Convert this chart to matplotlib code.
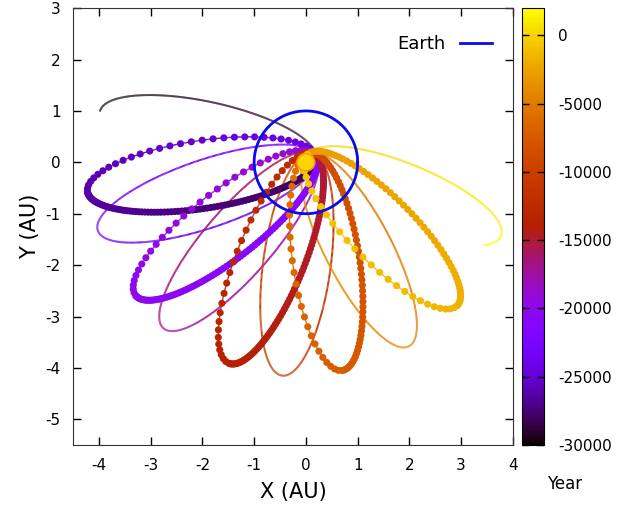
import numpy as np
import matplotlib
matplotlib.use("Agg")
import matplotlib.pyplot as plt
from matplotlib.collections import LineCollection
from matplotlib.colors import Normalize
from matplotlib.patches import Circle
from matplotlib.cm import ScalarMappable

plt.rcParams["axes.unicode_minus"] = False

# aphelion point of every loop of the comet track (AU)
aph_x = [-3.98, -4.22, -4.02, -3.29, -2.75, -1.49, -0.46, 0.70, 1.99, 2.92, 3.77]
aph_y = [0.99, -0.57, -1.33, -2.59, -3.23, -3.91, -4.15, -4.05, -3.58, -2.79, -1.43]
# year at start and end of each loop
year_start = [-30000, -28500, -24000, -21500, -18500, -15500, -12000, -9000, -5500, -3000, -300]
year_end = [-28500, -24000, -21500, -18500, -15500, -12000, -9000, -5500, -3000, -300, 2000]
# drawn part of each loop (eccentric anomaly, in units of pi)
ea_start = [1.0, 0, 0, 0, 0, 0, 0, 0, 0, 0, 0]
ea_end = [2.0, 2, 2, 2, 2, 2, 2, 2, 2, 2, 1.16]
# loops drawn with points (True) or as a plain line (False)
with_points = [False, True, False, True, False, True, False, True, False, True, False]

perihelion = 0.1      # AU
focus = (0.1, 0.08)
earth_r = 1.0
sun_r = 0.17
year_min, year_max = -30000, 2000
cbar_ticks = [0, -5000, -10000, -15000, -20000, -25000, -30000]

cmap = plt.get_cmap("gnuplot")
norm = Normalize(year_min, year_max)


def track(k, E):
    fx, fy = focus
    dx, dy = aph_x[k] - fx, aph_y[k] - fy
    Q = np.hypot(dx, dy)
    phi = np.arctan2(dy, dx)
    a = (Q + perihelion) / 2
    e = (Q - perihelion) / (Q + perihelion)
    b = a * np.sqrt(1 - e**2)
    s = a * (np.cos(E) - e)
    w = b * np.sin(E)
    x = fx - s * np.cos(phi) - w * np.sin(phi)
    y = fy - s * np.sin(phi) + w * np.cos(phi)
    e0, e1 = ea_start[k] * np.pi, ea_end[k] * np.pi
    t = year_start[k] + (E - e0) / (e1 - e0) * (year_end[k] - year_start[k])
    return x, y, t


fig = plt.figure(figsize=(6.29, 5.08), dpi=100)
ax = fig.add_axes([0.116, 0.124, 0.6995, 0.860])
cax = fig.add_axes([0.830, 0.124, 0.035, 0.860])

n_out = {1: 100, 3: 100, 5: 90, 7: 60, 9: 55}
n_ret = {1: 34, 3: 34, 5: 32, 7: 30, 9: 30}

for k in range(len(aph_x)):
    E = np.linspace(ea_start[k], ea_end[k], 600) * np.pi
    x, y, t = track(k, E)
    pts = np.column_stack([x, y]).reshape(-1, 1, 2)
    segs = np.concatenate([pts[:-1], pts[1:]], axis=1)
    lc = LineCollection(segs, cmap=cmap, norm=norm,
                        linewidths=1.0 if with_points[k] else 1.4, zorder=2)
    lc.set_array((t[:-1] + t[1:]) / 2)
    ax.add_collection(lc)
    if with_points[k]:
        Ed = np.concatenate([np.linspace(0, np.pi, n_out[k], endpoint=False),
                             np.linspace(np.pi, 2 * np.pi, n_ret[k])])
        xd, yd, td = track(k, Ed)
        ax.scatter(xd, yd, c=td, cmap=cmap, norm=norm, s=26,
                   edgecolors="none", zorder=4)

th = np.linspace(0, 2 * np.pi, 300)
ax.plot(earth_r * np.cos(th), earth_r * np.sin(th), color="#0a0aee",
        lw=2.0, label="Earth", zorder=5)
ax.add_patch(Circle((0, 0), sun_r, facecolor="#ffd400", edgecolor="#ff9a00",
                    lw=1.2, zorder=4.5))

ax.set_xlim(-4.5, 4)
ax.set_ylim(-5.5, 3)
ax.set_xticks(range(-4, 5))
ax.set_yticks(range(-5, 4))
ax.tick_params(direction="in", top=True, right=True, length=6, width=1,
               labelsize=11, pad=9)
ax.set_xlabel("X (AU)", fontsize=15, labelpad=7)
ax.set_ylabel("Y (AU)", fontsize=15, labelpad=4)
for sp in ax.spines.values():
    sp.set_color("#333333")

ax.legend(loc="upper right", frameon=False, markerfirst=False, fontsize=13,
          handlelength=1.8, handletextpad=0.8, bbox_to_anchor=(0.99, 0.975))

cb = fig.colorbar(ScalarMappable(norm=norm, cmap=cmap), cax=cax)
cb.set_ticks(cbar_ticks)
cb.ax.tick_params(direction="in", left=True, right=True, length=5, width=1,
                  labelsize=11, pad=10)
cb.outline.set_edgecolor("black")
fig.text(0.898, 0.047, "Year", fontsize=12, ha="center", va="center")

fig.savefig("out.png", dpi=100)
